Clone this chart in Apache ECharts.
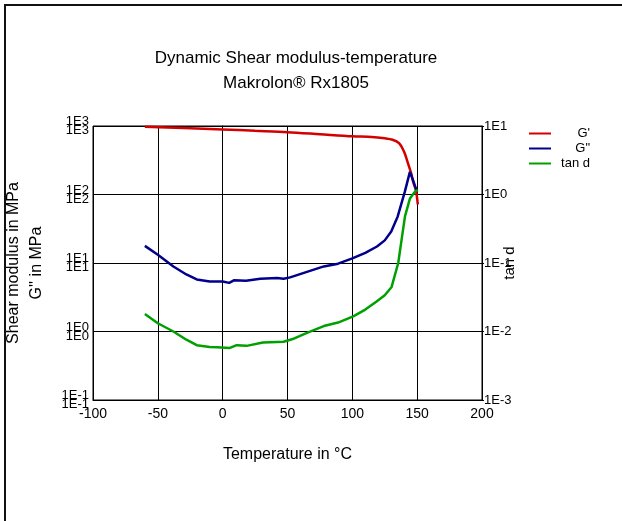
<!DOCTYPE html>
<html>
<head>
<meta charset="utf-8">
<script src="https://cdn.jsdelivr.net/npm/echarts@6/dist/echarts.min.js"></script>
<style>
  html, body { margin: 0; padding: 0; background: #fff; }
  #chart { width: 622px; height: 521px; }
</style>
</head>
<body>
<div id="chart"></div>
<script>
// temperature in °C for each curve
var tempGp = [-60, -30, 0, 25, 50, 75, 100, 115, 125, 131, 136, 140, 143, 145.5, 147, 149, 150.5];
var valGp = [977, 933, 891, 851, 813, 759, 708, 692, 661, 631, 562, 417, 282, 200, 151, 115, 72];

var tempGpp = [-60, -50, -38, -28, -20, -10, 0, 5, 9, 18, 29, 42, 47, 52, 65, 78, 89, 100, 110, 119, 125, 130, 135, 140.5, 144.4, 147, 149.5];
var valGpp = [17.8, 13.2, 8.9, 6.8, 5.75, 5.37, 5.37, 5.13, 5.62, 5.5, 5.89, 6.03, 5.89, 6.17, 7.41, 8.91, 9.77, 11.7, 14.1, 17.4, 21.4, 28.8, 47.9, 110, 214, 158, 115];

var tempTan = [-60, -50, -38, -28, -20, -10, -4.6, 5.6, 10.8, 18.5, 31, 47, 54, 65, 78, 89, 100.7, 110, 118.7, 125, 130.3, 135.4, 138, 140.6, 144.4, 148.3, 150.5];
var valTan = [0.018, 0.0132, 0.01, 0.00759, 0.00631, 0.00596, 0.00589, 0.00575, 0.00631, 0.00617, 0.00692, 0.00708, 0.00776, 0.00955, 0.012, 0.0135, 0.0166, 0.0209, 0.0275, 0.0339, 0.0447, 0.1, 0.219, 0.479, 0.871, 1.1, 1.17];

var leftTicks = {'-1': '1E-1', '0': '1E0', '1': '1E1', '2': '1E2', '3': '1E3'};
var rightTicks = {'-3': '1E-3', '-2': '1E-2', '-1': '1E-1', '0': '1E0', '1': '1E1'};

function pairs(xs, ys) {
    var out = [];
    for (var i = 0; i < xs.length; i++) out.push([xs[i], ys[i]]);
    return out;
}
function expOf(v) {
    return String(Math.round(Math.log(v) / Math.LN10));
}

var font = 'Liberation Sans, Arial, sans-serif';
var chart = echarts.init(document.getElementById('chart'));

var option = {
    animation: false,
    backgroundColor: '#fff',
    title: {
        text: 'Dynamic Shear modulus-temperature\nMakrolon® Rx1805',
        left: 291,
        top: 41,
        textAlign: 'center',
        textStyle: { fontFamily: font, fontSize: 17, fontWeight: 'normal', color: '#000', lineHeight: 25 }
    },
    legend: {
        orient: 'vertical',
        left: 524,
        top: 122,
        itemWidth: 22,
        itemHeight: 2,
        itemGap: 2,
        icon: 'rect',
        formatter: function (n) { return '{r|' + n + '}'; },
        textStyle: {
            fontFamily: font, fontSize: 13, color: '#000',
            rich: { r: { width: 34, align: 'right', fontFamily: font, fontSize: 13 } }
        },
        data: ["G'", 'G"', 'tan d']
    },
    grid: {
        left: 93, right: 140, top: 126, bottom: 121,
        outerBoundsMode: 'none',
        containLabel: false,
        show: true, borderColor: '#000', borderWidth: 1
    },
    xAxis: {
        type: 'value',
        min: -100, max: 200, interval: 50,
        name: 'Temperature in °C',
        nameLocation: 'middle',
        nameGap: 47,
        nameTextStyle: { fontFamily: font, fontSize: 16, color: '#000' },
        axisLine: { lineStyle: { color: '#000', width: 1 } },
        axisTick: { show: false },
        axisLabel: { fontFamily: font, fontSize: 14, color: '#000', margin: 7 },
        splitLine: { show: true, lineStyle: { color: '#000', width: 1 } }
    },
    yAxis: [{
        type: 'log',
        logBase: 10,
        min: 0.1, max: 1000,
        position: 'left',
        name: "Shear modulus in MPa\nG'' in MPa",
        nameLocation: 'middle',
        nameRotate: 90,
        nameGap: 45,
        nameTextStyle: { fontFamily: font, fontSize: 16, color: '#000', lineHeight: 23 },
        axisLine: { show: true, lineStyle: { color: '#000', width: 1 } },
        axisTick: { show: false },
        axisLabel: {
            fontFamily: font, fontSize: 13, color: '#000', lineHeight: 9, margin: 4,
            formatter: function (v) { var t = leftTicks[expOf(v)]; return t + '\n' + t; }
        },
        splitLine: { show: true, lineStyle: { color: '#000', width: 1 } }
    }, {
        type: 'log',
        logBase: 10,
        min: 0.001, max: 10,
        position: 'right',
        name: 'tan d',
        nameLocation: 'middle',
        nameRotate: 90,
        nameGap: 20,
        nameMoveOverlap: false,
        nameTextStyle: { fontFamily: font, fontSize: 15, color: '#000' },
        axisLine: { show: true, lineStyle: { color: '#000', width: 1 } },
        axisTick: { show: true, length: 2, lineStyle: { color: '#000' } },
        axisLabel: {
            fontFamily: font, fontSize: 13, color: '#000', margin: 2,
            formatter: function (v) { return rightTicks[expOf(v)]; }
        },
        splitLine: { show: false }
    }],
    series: [{
        name: "G'",
        type: 'line',
        yAxisIndex: 0,
        data: pairs(tempGp, valGp),
        showSymbol: false,
        smooth: 0.3,
        lineStyle: { color: '#d40000', width: 2.5 },
        itemStyle: { color: '#d40000' }
    }, {
        name: 'G"',
        type: 'line',
        yAxisIndex: 0,
        data: pairs(tempGpp, valGpp),
        showSymbol: false,
        lineStyle: { color: '#00008c', width: 2.5 },
        itemStyle: { color: '#00008c' }
    }, {
        name: 'tan d',
        type: 'line',
        yAxisIndex: 1,
        data: pairs(tempTan, valTan),
        showSymbol: false,
        lineStyle: { color: '#00a000', width: 2.5 },
        itemStyle: { color: '#00a000' }
    }],
    graphic: [
        { type: 'line', shape: { x1: 4, y1: 5, x2: 622, y2: 5 }, style: { stroke: '#111', lineWidth: 2 } },
        { type: 'line', shape: { x1: 5, y1: 4, x2: 5, y2: 521 }, style: { stroke: '#111', lineWidth: 2 } }
    ]
};
chart.setOption(option);
</script>
</body>
</html>
